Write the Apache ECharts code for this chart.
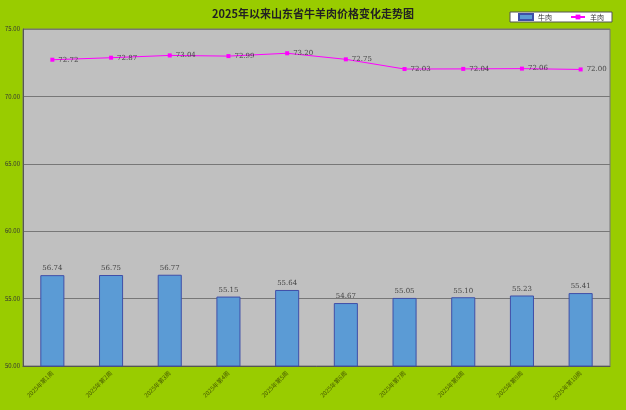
<!DOCTYPE html>
<html>
<head>
<meta charset="utf-8">
<script src="https://cdn.jsdelivr.net/npm/echarts@6/dist/echarts.min.js"></script>
<style>
html,body{margin:0;padding:0;background:#99cc00;}
#main{width:626px;height:410px;}
</style>
</head>
<body>
<div id="main"></div>
<script>
// data
var weeks = ['2025年第1周','2025年第2周','2025年第3周','2025年第4周','2025年第5周',
             '2025年第6周','2025年第7周','2025年第8周','2025年第9周','2025年第10周'];
var beef = [56.74, 56.75, 56.77, 55.15, 55.64, 54.67, 55.05, 55.10, 55.23, 55.41];
var mutton = [72.72, 72.87, 73.04, 72.99, 73.20, 72.75, 72.03, 72.04, 72.06, 72.00];
var yTicks = [50, 55, 60, 65, 70, 75];

var font = '"Noto Sans CJK SC", "DejaVu Sans", sans-serif';

var chart = echarts.init(document.getElementById('main'));
var option = {
    backgroundColor: '#99cc00',
    animation: false,
    title: {
        text: '2025年以来山东省牛羊肉价格变化走势图',
        left: 'center',
        top: 3,
        textStyle: {fontFamily: font, fontSize: 11, fontWeight: 'bold', color: '#222'}
    },
    legend: {
        right: 14,
        top: 12,
        backgroundColor: '#fff',
        borderColor: '#555',
        borderWidth: 1,
        padding: [1, 8, 1, 8],
        itemGap: 18,
        itemWidth: 14,
        itemHeight: 6,
        textStyle: {fontFamily: font, fontSize: 7, color: '#333'},
        data: [
            {name: '牛肉', icon: 'rect'},
            {name: '羊肉'}
        ]
    },
    grid: {
        left: 23, right: 16, top: 29, bottom: 44,
        show: true,
        backgroundColor: '#c0c0c0',
        borderColor: '#777',
        borderWidth: 1
    },
    xAxis: {
        type: 'category',
        data: weeks,
        boundaryGap: true,
        axisLine: {lineStyle: {color: '#555'}},
        axisTick: {inside: true, length: 3, lineStyle: {color: '#555'}},
        axisLabel: {
            rotate: 45, fontSize: 6, fontFamily: font, color: '#4a5e00',
            margin: 6, interval: 0
        }
    },
    yAxis: {
        type: 'value',
        min: yTicks[0],
        max: yTicks[yTicks.length - 1],
        interval: 5,
        axisLine: {show: true, lineStyle: {color: '#555'}},
        axisTick: {show: false},
        axisLabel: {
            fontSize: 6, fontFamily: font, color: '#333', margin: 3,
            formatter: function (v) { return v.toFixed(2); }
        },
        splitLine: {lineStyle: {color: '#777', width: 1.2}}
    },
    series: [
        {
            name: '牛肉',
            type: 'bar',
            data: beef,
            barWidth: '41%',
            itemStyle: {color: '#5b9bd5', borderColor: '#3f4fa8', borderWidth: 1},
            label: {
                show: true, position: 'top', distance: 3,
                fontSize: 7, fontFamily: 'DejaVu Serif', color: '#444',
                formatter: function (p) { return p.value.toFixed(2); }
            }
        },
        {
            name: '羊肉',
            type: 'line',
            data: mutton,
            symbol: 'rect',
            symbolSize: 4,
            lineStyle: {color: '#ff00ff', width: 1},
            itemStyle: {color: '#ff00ff'},
            label: {
                show: true, position: 'right', distance: 4,
                fontSize: 7, fontFamily: 'DejaVu Serif', color: '#444',
                formatter: function (p) { return p.value.toFixed(2); }
            }
        }
    ]
};
chart.setOption(option);
</script>
</body>
</html>
